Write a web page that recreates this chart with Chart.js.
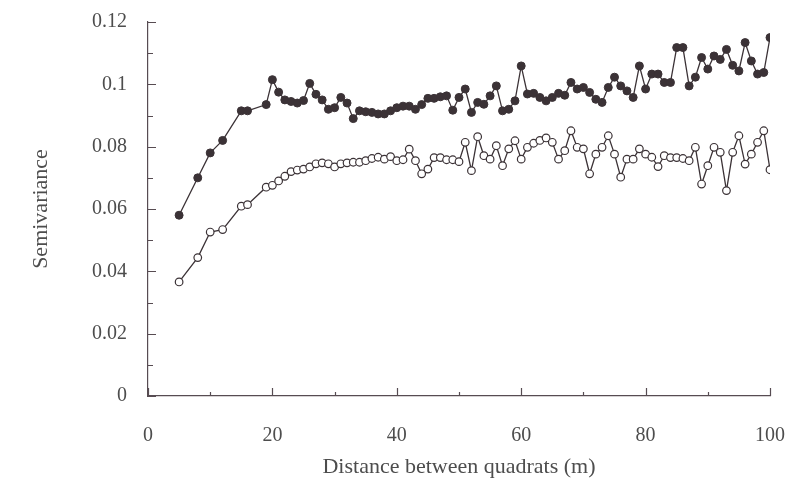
<!DOCTYPE html>
<html>
<head>
<meta charset="utf-8">
<script src="https://cdn.jsdelivr.net/npm/chart.js@4.4.1/dist/chart.umd.min.js"></script>
<style>
html, body { margin: 0; padding: 0; background: #fff; }
#wrap { width: 802px; height: 496px; }
</style>
</head>
<body>
<div id="wrap"><canvas id="chart"></canvas></div>
<script>
// distances (m)
const distance = [
    5, 8, 10, 12, 15, 16, 19,
    20, 21, 22, 23, 24, 25, 26, 27, 28, 29,
    30, 31, 32, 33, 34, 35, 36, 37, 38, 39,
    40, 41, 42, 43, 44, 45, 46, 47, 48, 49,
    50, 51, 52, 53, 54, 55, 56, 57, 58, 59,
    60, 61, 62, 63, 64, 65, 66, 67, 68, 69,
    70, 71, 72, 73, 74, 75, 76, 77, 78, 79,
    80, 81, 82, 83, 84, 85, 86, 87, 88, 89,
    90, 91, 92, 93, 94, 95, 96, 97, 98, 99,
    100
];

// filled circles (upper curve)
const semivarFilled = [
    0.058, 0.070, 0.078, 0.082, 0.0915, 0.0915, 0.0935,
    0.1015, 0.0975, 0.095, 0.0945, 0.094, 0.0948, 0.1003, 0.0968, 0.095, 0.092,
    0.0925, 0.0958, 0.094, 0.089, 0.0915, 0.0912, 0.091, 0.0905, 0.0905, 0.0915,
    0.0925, 0.093, 0.093, 0.092, 0.0935, 0.0955, 0.0955, 0.096, 0.0963, 0.0917,
    0.0958, 0.0985, 0.091, 0.0942, 0.0936, 0.0963, 0.0995, 0.0915, 0.092, 0.0947,
    0.1059, 0.0969, 0.0971, 0.0958, 0.0947, 0.0958, 0.0971, 0.0965, 0.1006, 0.0985,
    0.099, 0.0974, 0.0952, 0.0942, 0.099, 0.1023, 0.0995, 0.0979, 0.0958, 0.1059,
    0.0985, 0.1033, 0.1033, 0.1006, 0.1006, 0.1118, 0.1118, 0.0995, 0.1023, 0.1086,
    0.1049, 0.1091, 0.108, 0.1112, 0.1061, 0.1043, 0.1134, 0.1075, 0.1033, 0.1038,
    0.115
];

// open circles (lower curve)
const semivarOpen = [
    0.0366, 0.0444, 0.0526, 0.0534, 0.0609, 0.0614, 0.067,
    0.0676, 0.069, 0.0705, 0.072, 0.0725, 0.0728, 0.0735, 0.0745, 0.0748, 0.0745,
    0.0735, 0.0745, 0.0748, 0.075, 0.075, 0.0755, 0.0762, 0.0766, 0.076, 0.0768,
    0.0755, 0.0758, 0.0792, 0.0755, 0.0713, 0.0728, 0.0765, 0.0765, 0.0758, 0.0758,
    0.0752, 0.0814, 0.0723, 0.0832, 0.0771, 0.076, 0.0803, 0.0739, 0.0793, 0.0819,
    0.076, 0.0798, 0.0811, 0.082, 0.0828, 0.0814, 0.076, 0.0787, 0.0851, 0.0798,
    0.0793, 0.0713, 0.0776, 0.0798, 0.0835, 0.0776, 0.0702, 0.076, 0.076, 0.0793,
    0.0776, 0.0766, 0.0736, 0.0771, 0.0765, 0.0765, 0.0762, 0.0755, 0.0798, 0.068,
    0.0739, 0.0798, 0.0782, 0.0659, 0.0782, 0.0835, 0.0744, 0.0776, 0.0814, 0.0851,
    0.0726
];

const xMajorTicks = [0, 20, 40, 60, 80, 100];
const xMinorTicks = [10, 30, 50, 70, 90];
const yMajorTicks = [0, 0.02, 0.04, 0.06, 0.08, 0.1, 0.12];
const yMinorTicks = [0.01, 0.03, 0.05, 0.07, 0.09, 0.11];

const ink = '#3b3236';
const axisColor = '#574c52';
const textColor = '#4d4d4d';
const serif = "'Liberation Serif', 'DejaVu Serif', serif";

function toPoints(ys) {
    return distance.map((d, i) => ({ x: d, y: ys[i] }));
}

// ticks pointing inwards, drawn through the scales
const innerTicks = {
    id: 'innerTicks',
    afterDraw(chart) {
        const ctx = chart.ctx;
        const xs = chart.scales.x;
        const ys = chart.scales.y;
        const area = chart.chartArea;
        ctx.save();
        ctx.strokeStyle = axisColor;
        ctx.lineWidth = 1.2;
        ctx.beginPath();
        yMajorTicks.forEach(v => {
            const p = Math.round(ys.getPixelForValue(v)) + 0.5;
            ctx.moveTo(area.left, p); ctx.lineTo(area.left + 8, p);
        });
        yMinorTicks.forEach(v => {
            const p = Math.round(ys.getPixelForValue(v)) + 0.5;
            ctx.moveTo(area.left, p); ctx.lineTo(area.left + 5, p);
        });
        xMajorTicks.forEach(v => {
            const p = Math.round(xs.getPixelForValue(v)) + 0.5;
            ctx.moveTo(p, area.bottom); ctx.lineTo(p, area.bottom - 8);
        });
        xMinorTicks.forEach(v => {
            const p = Math.round(xs.getPixelForValue(v)) + 0.5;
            ctx.moveTo(p, area.bottom); ctx.lineTo(p, area.bottom - 4);
        });
        ctx.stroke();
        ctx.restore();
    }
};

const ctx = document.getElementById('chart').getContext('2d');
new Chart(ctx, {
    type: 'line',
    data: {
        datasets: [
            {
                label: 'filled',
                data: toPoints(semivarFilled),
                borderColor: ink,
                borderWidth: 1.3,
                backgroundColor: ink,
                pointBackgroundColor: ink,
                pointBorderColor: ink,
                pointRadius: 4,
                pointBorderWidth: 1,
                tension: 0
            },
            {
                label: 'open',
                data: toPoints(semivarOpen),
                borderColor: ink,
                borderWidth: 1.3,
                backgroundColor: '#fff',
                pointBackgroundColor: '#fff',
                pointBorderColor: ink,
                pointRadius: 3.8,
                pointBorderWidth: 1.2,
                tension: 0
            }
        ]
    },
    options: {
        responsive: true,
        maintainAspectRatio: false,
        animation: false,
        layout: { padding: { left: 0, top: 22, right: 32, bottom: 0 } },
        plugins: {
            legend: { display: false },
            tooltip: { enabled: false }
        },
        scales: {
            x: {
                type: 'linear',
                min: 0,
                max: 100,
                afterBuildTicks: s => { s.ticks = xMajorTicks.map(v => ({ value: v })); },
                afterFit: s => { s.height = 100; s.paddingLeft = 0; s.paddingRight = 0; },
                grid: { display: false },
                border: { display: true, color: axisColor, width: 1.2 },
                ticks: {
                    color: textColor,
                    font: { family: serif, size: 20 },
                    padding: 20,
                    maxRotation: 0
                },
                title: {
                    display: true,
                    text: 'Distance between quadrats (m)',
                    color: textColor,
                    font: { family: serif, size: 22 },
                    padding: { top: 0, bottom: 16 }
                }
            },
            y: {
                type: 'linear',
                min: 0,
                max: 0.12,
                afterBuildTicks: s => { s.ticks = yMajorTicks.map(v => ({ value: v })); },
                afterFit: s => { s.width = 148; s.paddingTop = 0; s.paddingBottom = 0; },
                grid: { display: false },
                border: { display: true, color: axisColor, width: 1.2 },
                ticks: {
                    color: textColor,
                    font: { family: serif, size: 20 },
                    padding: 13,
                    callback: v => String(Math.round(v * 100) / 100)
                },
                title: {
                    display: true,
                    text: 'Semivariance',
                    color: textColor,
                    font: { family: serif, size: 22 },
                    padding: { top: 28, bottom: 0 }
                }
            }
        }
    },
    plugins: [innerTicks]
});
</script>
</body>
</html>
